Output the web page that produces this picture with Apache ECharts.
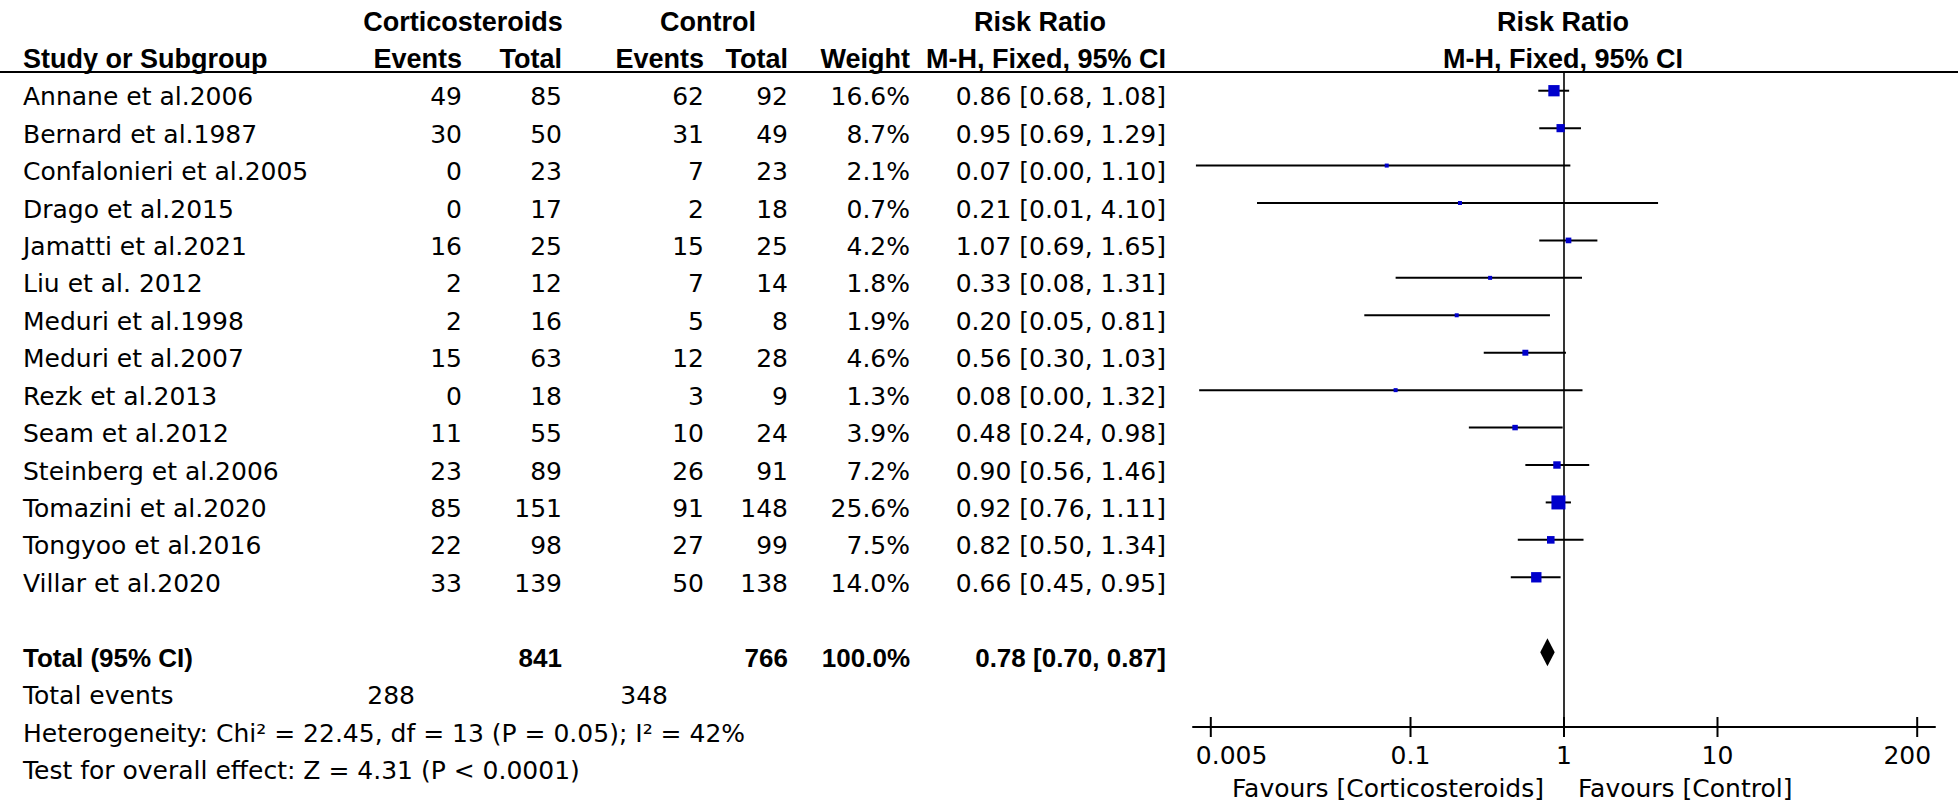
<!DOCTYPE html>
<html><head><meta charset="utf-8">
<script src="https://cdn.jsdelivr.net/npm/echarts@6/dist/echarts.min.js"></script>
<style>html,body{margin:0;padding:0;background:#fff}#c{width:1958px;height:806px}</style>
</head><body><div id="c"></div>
<script>
// ---- data ----
const studies = ["Annane et al.2006","Bernard et al.1987","Confalonieri et al.2005","Drago et al.2015","Jamatti et al.2021","Liu et al. 2012","Meduri et al.1998","Meduri et al.2007","Rezk et al.2013","Seam et al.2012","Steinberg et al.2006","Tomazini et al.2020","Tongyoo et al.2016","Villar et al.2020"];
const cortEvents = [49,30,0,0,16,2,2,15,0,11,23,85,22,33];
const cortTotal  = [85,50,23,17,25,12,16,63,18,55,89,151,98,139];
const ctrlEvents = [62,31,7,2,15,7,5,12,3,10,26,91,27,50];
const ctrlTotal  = [92,49,23,18,25,14,8,28,9,24,91,148,99,138];
const weights    = [16.6,8.7,2.1,0.7,4.2,1.8,1.9,4.6,1.3,3.9,7.2,25.6,7.5,14.0];
const riskRatio  = [0.86,0.95,0.07,0.21,1.07,0.33,0.20,0.56,0.08,0.48,0.90,0.92,0.82,0.66];
const ciLow      = [0.68,0.69,0.0040,0.01,0.69,0.08,0.05,0.30,0.0042,0.24,0.56,0.76,0.50,0.45];
const ciHigh     = [1.08,1.29,1.10,4.10,1.65,1.31,0.81,1.03,1.32,0.98,1.46,1.11,1.34,0.95];
const totalLabel = "Total (95% CI)";
const totalN     = [841, 766];
const totalWeight = 100.0;
const totalRR    = [0.78, 0.70, 0.87];
const totalEvents = [288, 348];
const heterogeneityText = "Heterogeneity: Chi\u00b2 = 22.45, df = 13 (P = 0.05); I\u00b2 = 42%";
const overallText = "Test for overall effect: Z = 4.31 (P < 0.0001)";
const axisTicks = [0.005, 0.1, 1, 10, 200];
const axisTickLabels = ["0.005","0.1","1","10","200"];
const favoursLeft = "Favours [Corticosteroids]";
const favoursRight = "Favours [Control]";

// ---- layout / style ----
const REG = '25px "DejaVu Sans"';
const BOLD = 'bold 26px "Liberation Sans"';
const HB = 'bold 27px "Liberation Sans"';
const COL = {name: 23, cEv: 462, cTot: 562, kEv: 704, kTot: 788, w: 910, ci: 1166, teC: 415, teK: 668};
const TEXT_DY = 6;
const TOTAL_ROW = 15;
const fmtCI = (a,b,c) => a.toFixed(2) + " [" + b.toFixed(2) + ", " + c.toFixed(2) + "]";

const chart = echarts.init(document.getElementById('c'), null, {renderer: 'svg'});

function txt(x, y, s, align, font) {
  return {type: 'text', style: {x: x, y: y, text: String(s), align: align, verticalAlign: 'middle', fill: '#000', font: font || REG}};
}

function tableItem(params, api) {
  const i = api.value(1);
  const y = api.coord([1, i])[1] + TEXT_DY;
  return {type: 'group', children: [
    txt(COL.name, y, studies[i], 'left'),
    txt(COL.cEv, y, cortEvents[i], 'right'),
    txt(COL.cTot, y, cortTotal[i], 'right'),
    txt(COL.kEv, y, ctrlEvents[i], 'right'),
    txt(COL.kTot, y, ctrlTotal[i], 'right'),
    txt(COL.w, y, weights[i].toFixed(1) + '%', 'right'),
    txt(COL.ci, y, fmtCI(riskRatio[i], ciLow[i], ciHigh[i]), 'right')
  ]};
}

function footerItem(params, api) {
  const yT = api.coord([1, TOTAL_ROW])[1] + TEXT_DY;
  const y1 = api.coord([1, TOTAL_ROW + 1])[1] + TEXT_DY;
  const y2 = api.coord([1, TOTAL_ROW + 2])[1] + TEXT_DY;
  const y3 = api.coord([1, TOTAL_ROW + 3])[1] + TEXT_DY;
  return {type: 'group', children: [
    txt(COL.name, yT, totalLabel, 'left', BOLD),
    txt(COL.cTot, yT, totalN[0], 'right', BOLD),
    txt(COL.kTot, yT, totalN[1], 'right', BOLD),
    txt(COL.w, yT, totalWeight.toFixed(1) + '%', 'right', BOLD),
    txt(COL.ci, yT, fmtCI(totalRR[0], totalRR[1], totalRR[2]), 'right', BOLD),
    txt(COL.name, y1, 'Total events', 'left'),
    txt(COL.teC, y1, totalEvents[0], 'right'),
    txt(COL.teK, y1, totalEvents[1], 'right'),
    txt(COL.name, y2, heterogeneityText, 'left'),
    txt(COL.name, y3, overallText, 'left')
  ]};
}

function forestItem(params, api) {
  const i = api.value(1);
  const c = api.coord([api.value(0), i]);
  const lo = api.coord([api.value(2), i]);
  const hi = api.coord([api.value(3), i]);
  const s = Math.max(4, 2.77 * Math.sqrt(api.value(4)));
  return {type: 'group', children: [
    {type: 'line', shape: {x1: lo[0], y1: c[1], x2: hi[0], y2: c[1]}, style: {stroke: '#000', lineWidth: 2}},
    {type: 'rect', shape: {x: c[0] - s / 2, y: c[1] - s / 2, width: s, height: s}, style: {fill: '#0000CC'}}
  ]};
}

function diamondItem(params, api) {
  const c = api.coord([api.value(0), api.value(1)]);
  const lo = api.coord([api.value(2), api.value(1)]);
  const hi = api.coord([api.value(3), api.value(1)]);
  const h = 14;
  return {type: 'polygon', shape: {points: [[lo[0], c[1]], [c[0], c[1] - h], [hi[0], c[1]], [c[0], c[1] + h]]}, style: {fill: '#000'}};
}

function refLineItem(params, api) {
  const top = api.coord([api.value(0), -0.5]);
  const bot = api.coord([api.value(0), 17]);
  return {type: 'line', shape: {x1: top[0], y1: top[1], x2: bot[0], y2: bot[1]}, style: {stroke: '#000', lineWidth: 1.6}};
}

function tickItem(params, api) {
  const k = api.value(2);
  const p = api.coord([api.value(0), api.value(1)]);
  let align = 'center', x = p[0];
  if (k === 0) { align = 'left'; x = p[0] - 15; }
  if (k === axisTicks.length - 1) { align = 'right'; x = p[0] + 14; }
  const children = [
    {type: 'line', shape: {x1: p[0], y1: p[1] - 10, x2: p[0], y2: p[1] + 10}, style: {stroke: '#000', lineWidth: 2}},
    txt(x, p[1] + 28, axisTickLabels[k], align)
  ];
  if (api.value(0) === 1) {
    children.push(txt(p[0] - 20, p[1] + 61, favoursLeft, 'right'));
    children.push(txt(p[0] + 14, p[1] + 61, favoursRight, 'left'));
  }
  return {type: 'group', children: children};
}

function gtext(x, y, s, align) {
  return {type: 'text', x: 0, y: 0, silent: true, style: {x: x, y: y, text: s, font: HB, fill: '#000', align: align, verticalAlign: 'middle'}};
}

const option = {
  animation: false,
  backgroundColor: '#fff',
  grid: {left: 1193, width: 742, top: 72, height: 655},
  xAxis: {
    type: 'log', logBase: 10, position: 'bottom', min: Math.pow(10, -2.417), max: Math.pow(10, 2.417),
    axisLine: {show: true, onZero: false, lineStyle: {color: '#000', width: 2}},
    axisTick: {show: false}, axisLabel: {show: false}, splitLine: {show: false}
  },
  yAxis: {type: 'value', inverse: true, min: -0.5, max: 17, show: false, splitLine: {show: false}},
  graphic: [
    {type: 'line', silent: true, shape: {x1: 0, y1: 72, x2: 1958, y2: 72}, style: {stroke: '#000', lineWidth: 2}},
    gtext(463, 22, 'Corticosteroids', 'center'),
    gtext(708, 22, 'Control', 'center'),
    gtext(1040, 22, 'Risk Ratio', 'center'),
    gtext(1563, 22, 'Risk Ratio', 'center'),
    gtext(COL.name, 59, 'Study or Subgroup', 'left'),
    gtext(COL.cEv, 59, 'Events', 'right'),
    gtext(COL.cTot, 59, 'Total', 'right'),
    gtext(COL.kEv, 59, 'Events', 'right'),
    gtext(COL.kTot, 59, 'Total', 'right'),
    gtext(COL.w, 59, 'Weight', 'right'),
    gtext(COL.ci, 59, 'M-H, Fixed, 95% CI', 'right'),
    gtext(1563, 59, 'M-H, Fixed, 95% CI', 'center')
  ],
  series: [
    {type: 'custom', name: 'table', silent: true, clip: false, renderItem: tableItem,
     data: studies.map((s, i) => [1, i])},
    {type: 'custom', name: 'footer', silent: true, clip: false, renderItem: footerItem, data: [[1, TOTAL_ROW]]},
    {type: 'custom', name: 'ref', silent: true, clip: false, renderItem: refLineItem, data: [[1, 0]]},
    {type: 'custom', name: 'forest', silent: true, clip: false, renderItem: forestItem, encode: {x: 0, y: 1},
     data: studies.map((s, i) => [riskRatio[i], i, ciLow[i], ciHigh[i], weights[i]])},
    {type: 'custom', name: 'total', silent: true, clip: false, renderItem: diamondItem, encode: {x: 0, y: 1},
     data: [[totalRR[0], TOTAL_ROW, totalRR[1], totalRR[2]]]},
    {type: 'custom', name: 'ticks', silent: true, clip: false, renderItem: tickItem, encode: {x: 0, y: 1},
     data: axisTicks.map((v, k) => [v, 17, k])}
  ]
};
chart.setOption(option);
</script>
</body></html>
